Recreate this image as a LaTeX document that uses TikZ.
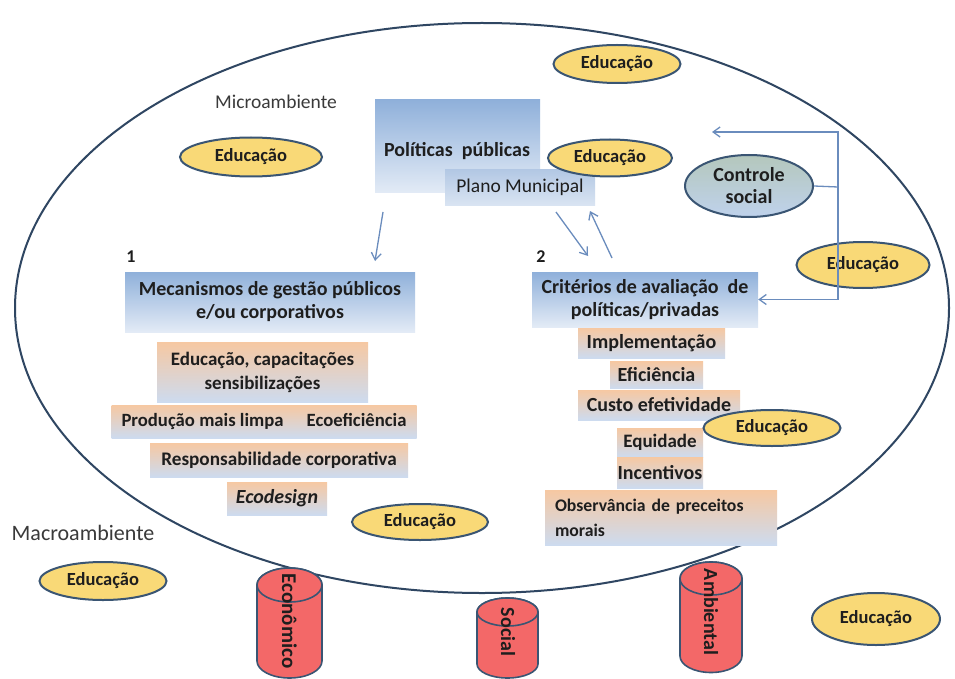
\documentclass[tikz,border=0pt]{standalone}
\usepackage{fontspec}
\setmainfont{Carlito}
\usetikzlibrary{shapes.geometric,arrows.meta}

\definecolor{ink}{HTML}{1E1E1E}
\definecolor{labelgray}{HTML}{3A3A3A}
\definecolor{ringline}{HTML}{2F4662}
\definecolor{outline}{HTML}{3A5573}
\definecolor{boxblue}{HTML}{8FB0DA}
\definecolor{boxpale}{HTML}{E3EBF6}
\definecolor{planotop}{HTML}{B3C8E4}
\definecolor{planobot}{HTML}{D9E4F2}
\definecolor{peach}{HTML}{F6C8A2}
\definecolor{paleblue}{HTML}{CDDBEF}
\definecolor{eduyellow}{HTML}{F9D977}
\definecolor{csocialtop}{HTML}{B4C7BC}
\definecolor{csocialbot}{HTML}{BFD2EC}
\definecolor{cylred}{HTML}{F36868}
\definecolor{flowblue}{HTML}{6A8CBD}

\tikzset{
  bigfont/.style={font=\fontsize{20}{23}\selectfont\bfseries},
  midfont/.style={font=\fontsize{19}{24}\selectfont\bfseries},
  bluebox/.style={rectangle, inner sep=0pt, top color=boxblue, bottom color=boxpale,
    text=ink, align=center, bigfont},
  planobox/.style={rectangle, inner sep=0pt, top color=planotop, bottom color=planobot,
    text=ink, align=center, font=\fontsize{19.5}{22}\selectfont},
  peachbox/.style={rectangle, inner sep=0pt, top color=peach, bottom color=paleblue,
    text=ink, align=center, bigfont},
  edu/.style={ellipse, draw=outline, line width=2pt, fill=eduyellow, inner sep=0pt,
    minimum width=128pt, minimum height=38pt, text=ink,
    font=\fontsize{18.5}{22}\selectfont\bfseries},
  csocial/.style={ellipse, draw=outline, line width=2pt, top color=csocialtop,
    bottom color=csocialbot, inner sep=0pt, minimum width=128pt, minimum height=62pt,
    text=ink, align=center, font=\fontsize{20}{22}\selectfont\bfseries},
  cylbody/.style={fill=cylred, draw=outline, line width=1.6pt},
  cyltext/.style={rotate=-90, text=ink, font=\fontsize{20}{22}\selectfont\bfseries},
  flow/.style={draw=flowblue, line width=1.3pt},
  flowarrow/.style={flow, -{Straight Barb[length=7pt,width=10pt,line width=1.3pt]}},
  numlabel/.style={text=ink, font=\fontsize{18}{20}\selectfont\bfseries},
  envlabel/.style={text=labelgray}
}

% pillar: centre x, radius, top-face centre y, bottom-face centre y, face half-height
\newcommand\pillarshape[5]{%
  \draw[cylbody] (#1-#2,#3) -- (#1-#2,#4)
    arc[start angle=180, end angle=0, x radius=#2, y radius=#5]
    -- (#1+#2,#3)
    arc[start angle=0, end angle=-180, x radius=#2, y radius=#5] -- cycle;
  \draw[cylbody] (#1,#3) ellipse [x radius=#2, y radius=#5];
}

\begin{document}
\begin{tikzpicture}[x=1pt,y=-1pt]
\useasboundingbox (0,0) rectangle (955,679);
\fill[white] (0,0) rectangle (955,679);

% outer ring: the micro-environment
\draw[ringline, line width=2pt] (482,308) ellipse [x radius=467, y radius=285];

\node[envlabel, font=\fontsize{19.5}{22}\selectfont] (micro) at (276,102) {Microambiente};
\node[envlabel, font=\fontsize{22}{24}\selectfont] (macro) at (83,533) {Macroambiente};

% public policy block
\node[bluebox, minimum width=165pt, minimum height=93pt] (pol) at (457.5,146.5) {};
\node[text=ink, bigfont] (poltext) at (457,151) {Políticas\ \ públicas};
\node[planobox, minimum width=150pt, minimum height=35pt] (plano) at (520,187.5) {Plano Municipal};

% column 1: management mechanisms
\node[numlabel] (n1) at (131,257) {1};
\node[bluebox, minimum width=290pt, minimum height=60pt] (mec) at (270,302)
  {Mecanismos de gestão públicos\\e/ou corporativos};
\node[peachbox, midfont, minimum width=211pt, minimum height=60pt] (educap) at (262.5,372)
  {Educação, capacitações\\sensibilizações};
\node[peachbox, font=\fontsize{18.7}{22}\selectfont\bfseries, minimum width=305pt,
  minimum height=33pt] (prod) at (264,421.5)
  {Produção mais limpa\hspace{23pt}Ecoeficiência};
\node[peachbox, font=\fontsize{19.2}{22}\selectfont\bfseries, minimum width=258pt,
  minimum height=34pt] (resp) at (279,460) {Responsabilidade corporativa};
\node[peachbox, minimum width=100pt, minimum height=33pt] (ecod) at (277,498.5)
  {\itshape Ecodesign};

% column 2: evaluation criteria
\node[numlabel] (n2) at (541,257) {2};
\node[bluebox, minimum width=226pt, minimum height=55pt] (crit) at (645,299.5)
  {Critérios de avaliação\ \ de\\políticas/privadas};
\node[peachbox, minimum width=147pt, minimum height=30pt] (impl) at (651.5,343) {Implementação};
\node[peachbox, minimum width=93pt, minimum height=27pt] (efic) at (656.5,375) {Eficiência};
\node[peachbox, minimum width=162pt, minimum height=30pt] (custo) at (659,405) {Custo efetividade};
\node[peachbox, font=\fontsize{19}{22}\selectfont\bfseries, minimum width=86pt,
  minimum height=29pt] (equi) at (660,442.5) {Equidade};
\node[peachbox, minimum width=86pt, minimum height=31pt] (incen) at (660,472.5) {Incentivos};
\node[peachbox, font=\fontsize{17.7}{25}\selectfont\bfseries, minimum width=232pt,
  minimum height=55pt, align=left, text width=212pt]
  (obs) at (661,517.5) {Observância de preceitos\\morais};

% education ellipses
\node[edu, minimum width=142pt, minimum height=39pt] (edu1) at (251,157) {Educação};
\node[edu, minimum width=127pt] (edu2) at (617,64) {Educação};
\node[edu, minimum width=124pt, minimum height=37pt] (edu3) at (610,158) {Educação};
\node[edu, minimum width=133pt, minimum height=46pt] (edu4) at (863,265) {Educação};
\node[edu, minimum width=137pt, minimum height=36pt] (edu5) at (772,428) {Educação};
\node[edu, minimum width=136pt, minimum height=36pt] (edu6) at (420,522) {Educação};
\node[edu, minimum width=127pt] (edu7) at (103,581) {Educação};
\node[edu, minimum width=128pt, minimum height=52pt] (edu8) at (876,619) {Educação};

% social control
\node[csocial] (cs) at (749,186) {Controle\\social};

% flows
\coordinate (polout) at (383,212);
\coordinate (mecin) at (375,261);
\draw[flowarrow] (polout) -- (mecin);
\coordinate (planoout) at (556,212);
\coordinate (critin) at (588,256);
\draw[flowarrow] (planoout) -- (critin);
\coordinate (critout) at (612,258);
\coordinate (planoin) at (590,211);
\draw[flowarrow] (critout) -- (planoin);

\coordinate (csjoin) at (838,187);
\coordinate (cstop) at (712,132);
\draw[flow] (cs.east) -- (csjoin);
\draw[flowarrow] (csjoin) |- (cstop);
\draw[flowarrow] (csjoin) |- (crit.east);

% the three pillars
\pillarshape{289.5}{32.5}{585}{661}{17}
\node[cyltext, font=\fontsize{21}{22}\selectfont\bfseries] (eco) at (289.5,621) {Econômico};
\pillarshape{507.5}{30.5}{612}{664}{14}
\node[cyltext] (soc) at (508,632) {Social};
\pillarshape{711}{31}{578.5}{656}{16.5}
\node[cyltext] (amb) at (711,612) {Ambiental};

\end{tikzpicture}
\end{document}
